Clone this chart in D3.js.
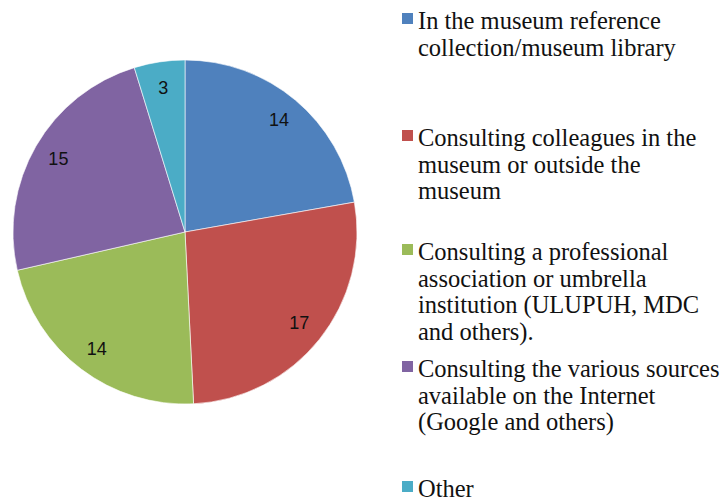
<!DOCTYPE html>
<style>
  body { margin: 0; background: #fff; }
  .legend text { font-family: "Liberation Serif", serif; font-size: 24.5px; fill: #111; }
  .lbl { font-family: "Liberation Sans", sans-serif; font-size: 18px; fill: #111; }
</style>
<body>
</body>
<script src="https://cdn.jsdelivr.net/npm/d3@7"></script>
<script>
  const w = 723, h = 502;

  const categories = [
    ["In the museum reference", "collection/museum library"],
    ["Consulting colleagues in the", "museum or outside the", "museum"],
    ["Consulting a professional", "association or umbrella", "institution (ULUPUH, MDC", "and others)."],
    ["Consulting the various sources", "available on the Internet", "(Google and others)"],
    ["Other"],
  ];
  const values = [14, 17, 14, 15, 3];
  const colors = ["#4f81bd", "#c0504d", "#9bbb59", "#8064a2", "#4bacc6"];

  const svg = d3.select('body').append('svg')
    .attr('width', w)
    .attr('height', h);

  const cx = 185, cy = 232, r = 172;
  const pie = d3.pie().sort(null)(values);
  const arc = d3.arc().innerRadius(0).outerRadius(r);
  const lblArc = d3.arc().innerRadius(r * 0.85).outerRadius(r * 0.85);

  const g = svg.append('g')
    .attr('transform', `translate(${cx}, ${cy})`);

  g.selectAll('path')
    .data(pie)
    .join('path')
    .attr('d', arc)
    .attr('fill', (d, i) => colors[i])
    .attr('stroke', '#fff')
    .attr('stroke-width', 0.6);

  g.selectAll('text')
    .data(pie)
    .join('text')
    .attr('class', 'lbl')
    .attr('transform', d => `translate(${lblArc.centroid(d)})`)
    .attr('text-anchor', 'middle')
    .attr('dy', '0.35em')
    .text(d => d.data);

  // legend
  const tops = [29, 146, 260, 377, 497];
  const lh = 26.7;
  const legend = svg.append('g').attr('class', 'legend');
  categories.forEach((lines, i) => {
    legend.append('rect')
      .attr('x', 402).attr('y', tops[i] - 16)
      .attr('width', 11).attr('height', 11)
      .attr('fill', colors[i]);
    lines.forEach((s, j) => {
      legend.append('text')
        .attr('x', 418)
        .attr('y', tops[i] + j * lh)
        .text(s);
    });
  });
</script>
